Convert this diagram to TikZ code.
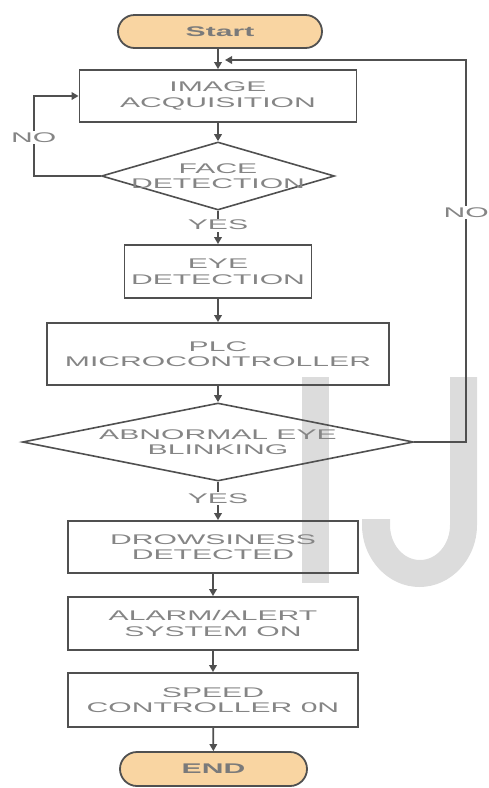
\documentclass[tikz,border=0pt]{standalone}
\usepackage{fontspec}
\setmainfont{Liberation Sans}
\newfontfamily\flowfont[FakeStretch=2.15]{Liberation Sans}
\usepackage{tikz}
\usetikzlibrary{shapes,arrows.meta,positioning,calc}
\usepackage{xcolor}
\definecolor{linegray}{HTML}{505050}
\definecolor{textgray}{HTML}{858585}
\definecolor{termtext}{HTML}{7A7A7A}
\definecolor{termfill}{HTML}{F9D5A2}
\definecolor{markgray}{HTML}{DCDCDC}

\begin{document}
\begin{tikzpicture}[x=1pt,y=-1pt,
  every node/.style={font=\flowfont\fontsize{14}{15.5}\selectfont, text=textgray, align=center},
  proc/.style={draw=linegray, line width=1.8pt, inner sep=0pt},
  term/.style={draw=linegray, line width=1.8pt, fill=termfill, rounded rectangle, inner sep=0pt, text=termtext},
  decision/.style={draw=linegray, line width=1.6pt, diamond, inner sep=0pt},
  flow/.style={draw=linegray, line width=1.8pt, -{Triangle[length=7pt,width=7.5pt]}},
  lbl/.style={fill=white, inner sep=1.5pt}]

\useasboundingbox (0,0) rectangle (488,788);

% Watermark
\fill[markgray] (302,377) rectangle (329,583);
\fill[markgray] (477,377) -- (477,525)
  .. controls (477,559) and (451,587) .. (419.5,587)
  .. controls (388,587) and (362,559) .. (362,525)
  -- (362,519) -- (390,519) -- (390,525)
  .. controls (390,544) and (403,560) .. (420,560)
  .. controls (437,560) and (450,544) .. (450,525)
  -- (450,377) -- cycle;

% Terminals
\node[term, minimum width=204pt, minimum height=33pt] (start) at (220,31.5) {\bfseries Start};
\node[term, minimum width=187pt, minimum height=34pt] (end) at (213.5,769) {\bfseries END};

% Upper part
\node[proc, minimum width=277pt, minimum height=52pt] (img) at (218,96) {IMAGE\\ACQUISITION};
\node[decision, minimum width=233pt, minimum height=68pt] (face) at (218,176) {};
\node (facetxt) at (face) {FACE\\DETECTION};
\node[proc, minimum width=187pt, minimum height=53pt] (eye) at (218,271.5) {EYE\\DETECTION};
\node[proc, minimum width=342pt, minimum height=62pt] (plc) at (218,354) {PLC\\MICROCONTROLLER};
\node[decision, minimum width=391pt, minimum height=78pt] (abn) at (218,442) {};
\node (abntxt) at (abn) {ABNORMAL EYE\\BLINKING};

% Lower part
\node[proc, minimum width=290pt, minimum height=52pt] (drow) at (213,547) {DROWSINESS\\DETECTED};
\node[proc, minimum width=290pt, minimum height=53pt] (alarm) at (213,623.5) {ALARM/ALERT\\SYSTEM ON};
\node[proc, minimum width=290pt, minimum height=54pt] (speed) at (213,700) {SPEED\\CONTROLLER 0N};

\coordinate (join) at (225,60);

% Arrows
\draw[flow] (start.south -| img.north) -- (img.north);
\draw[flow] (img) -- (face);
\draw[flow] (face.west) -- ++(-67,0) |- node[lbl, pos=0.24] {NO} (img.west);
\draw[flow] (face) -- node[lbl, pos=0.43] {YES} (eye);
\draw[flow] (eye) -- (plc);
\draw[flow] (plc) -- (abn);
\draw[flow] (abn.east) -- ++(52,0) |- node[lbl, pos=0.3] {NO} (join);
\draw[flow] (abn.south) -- node[lbl, pos=0.43] {YES} (abn.south |- drow.north);
\draw[flow] (drow) -- (alarm);
\draw[flow] (alarm) -- (speed);
\draw[flow] (speed) -- (end);

\end{tikzpicture}
\end{document}
